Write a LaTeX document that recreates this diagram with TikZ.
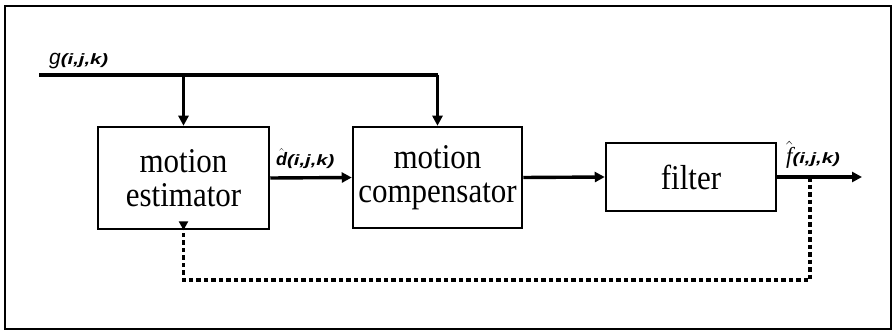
\documentclass[tikz,border=0pt]{standalone}
\usepackage{fontspec}
\usepackage{graphicx}
\setmainfont{Liberation Serif}
\newfontfamily\labsans{Liberation Sans}
\usetikzlibrary{arrows.meta}
\tikzset{
  blockbox/.style={draw=black, line width=2.5pt, inner sep=0pt, align=center,
    font=\fontsize{31}{34}\selectfont},
  sig/.style={line width=3.4pt, -{Triangle[length=10pt,width=10pt]}},
  sigline/.style={line width=3.4pt},
  fb/.style={line width=3.4pt, dash pattern=on 4.5pt off 3pt},
  lab/.style={inner sep=0pt},
}
\newcommand\hatlet[2]{{#1$\hat{\hbox{#2}}$}}
\newcommand\ijk[1]{\scalebox{1.35}[1]{\labsans\bfseries\itshape\fontsize{#1}{#1}\selectfont (i,j,k)}}
\newcommand\tall[1]{\scalebox{1}[1.12]{#1}}
\begin{document}
\begin{tikzpicture}[x=1pt,y=-1pt]
\useasboundingbox (0,0) rectangle (893,331);
\draw[line width=2.5pt] (5,6) rectangle (891,329);
\node[blockbox, minimum width=171pt, minimum height=102pt] (est) at (183.5,178) {\tall{motion}\\\tall{estimator}};
\node[blockbox, minimum width=169pt, minimum height=101pt] (comp) at (437.5,177.5) {\tall{motion}\\\tall{compensator}};
\node[blockbox, minimum width=170pt, minimum height=68pt] (filt) at (691,177) {\tall{filter}};
\coordinate (gin) at (39,75);
\coordinate (out) at (862,177);
\coordinate (tap) at (810,177);
\coordinate (fbr) at (810,280);
\coordinate (fbl) at (183.5,280);
% input
\draw[sigline] (gin) -- (gin -| comp.north);
\draw[sig] (gin -| est.north) -- (est.north);
\draw[sig] (gin -| comp.north) -- (comp.north);
\node[lab, anchor=base west] (glab) at (49,65) {{\labsans\itshape\fontsize{21}{21}\selectfont g}\ijk{15}};
% chain
\draw[sig] (est.east) -- (comp.west);
\draw[sig] (comp.east) -- (filt.west);
\draw[sig] (filt.east) -- (out);
\node[lab, anchor=base west] (dlab) at (276,166) {\hatlet{\fontsize{18}{18}\selectfont}{\labsans\bfseries\itshape\fontsize{18}{18}\selectfont d}\ijk{15}};
\node[lab, anchor=base west] (flab) at (786,164) {\hatlet{\fontsize{23}{23}\selectfont}{\itshape\fontsize{23}{23}\selectfont f}\ijk{15}};
% feedback
\draw[fb] (tap) -- (fbr) -- (fbl) -- ([yshift=5pt]est.south);
\draw[line width=3.4pt, -{Triangle[length=9pt,width=9pt]}] ([yshift=6pt]est.south) -- (est.south);
\end{tikzpicture}
\end{document}
